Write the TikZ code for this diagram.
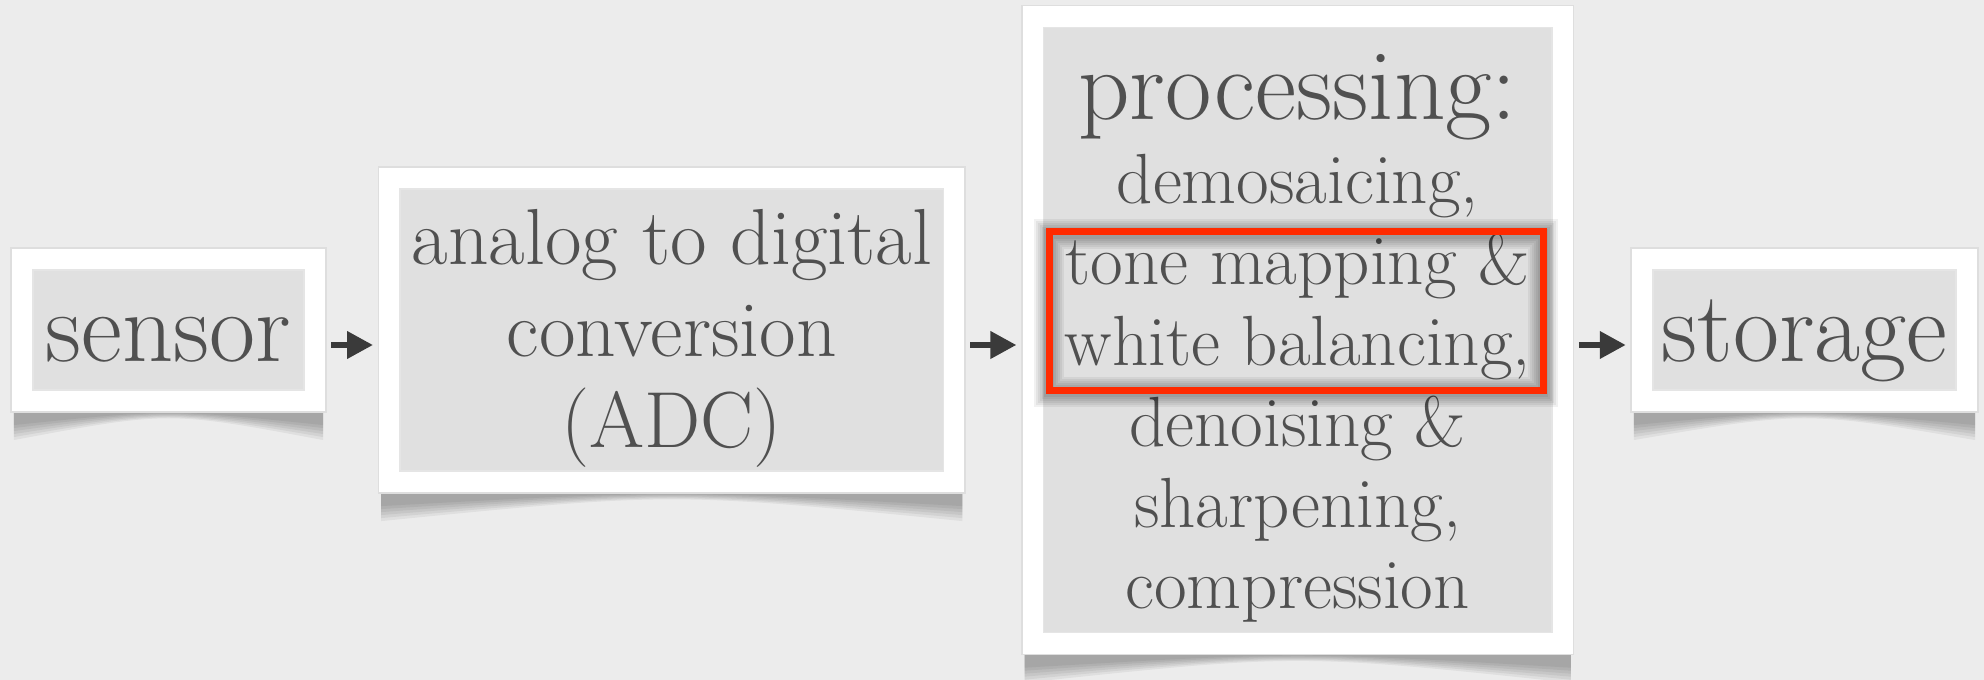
\documentclass[tikz,border=0pt]{standalone}
\usetikzlibrary{positioning,calc,arrows.meta,backgrounds}

\definecolor{paper}{RGB}{236,236,236}
\definecolor{boxgray}{RGB}{224,224,224}
\definecolor{ink}{RGB}{80,80,80}
\definecolor{arrowgray}{RGB}{58,58,58}
\definecolor{hired}{RGB}{255,42,0}

% curled shadow under a framed block
\newcommand{\curlshadow}[1]{%
  \foreach \d/\c in {0/-8,3/-7.6,6/-7.2,9/-6.8,12/-6.4,15/-6}
    \fill[black,opacity=0.055] ($(#1.south west)+(8,-16)$) -- ($(#1.south west)+(8,8+\d)$)
      .. controls ($(#1.south)+(0,\c)$) .. ($(#1.south east)+(-8,8+\d)$)
      -- ($(#1.south east)+(-8,-16)$) -- cycle;}

\begin{document}
\begin{tikzpicture}[x=0.01cm, y=-0.01cm, node distance=0.42cm,
  block/.style={fill=boxgray, draw=black!10, line width=0.4pt, inner sep=0pt, outer sep=0.27cm,
    preaction={draw=black!13, line width=0.45cm},
    preaction={draw=white, line width=0.42cm}},
  blocktext/.style={text=ink, align=center, inner sep=0pt},
  flow/.style={draw=arrowgray, line width=0.065cm, -{Triangle[length=0.26cm,width=0.26cm]}},
  hilite/.style={draw=hired, line width=0.07cm, inner sep=0pt, outer sep=0pt}]
\useasboundingbox (0,0) rectangle (1984,680);

\node[block, minimum width=2.71cm, minimum height=1.2cm] (sensor) at (168.5,330) {};
\node[block, minimum width=5.43cm, minimum height=2.82cm] (adc) [right=of sensor] {};
\node[block, minimum width=5.08cm, minimum height=6.05cm] (proc) [right=0.46cm of adc] {};
\node[block, minimum width=3.03cm, minimum height=1.2cm] (storage) [right=0.47cm of proc] {};

\node[blocktext, anchor=base, font=\fontsize{28.5}{32}\selectfont] (sensortext) at ($(sensor.center)+(0,32)$) {sensor};
\node[blocktext, font=\fontsize{22.6}{25.9}\selectfont] (adctext) at ($(adc.center)+(0,8.4)$)
  {analog to digital\\ conversion\\ (ADC)};
\node[blocktext, font=\fontsize{20.2}{23.05}\selectfont] (proctext) at ($(proc.center)+(0,8.2)$)
  {{\fontsize{28.7}{33}\selectfont processing:}\\[0.85pt] demosaicing,\\ tone mapping \&\\ white balancing,\\ denoising \&\\ sharpening,\\ compression};
\node[blocktext, anchor=base, font=\fontsize{28.5}{32}\selectfont] (storagetext) at ($(storage.center)+(0,32)$) {storage};

\node[hilite, minimum width=4.94cm, minimum height=1.58cm] (hl) at ($(proc.center)+(-1.5,-19)$) {};
\foreach \w in {0.10,0.14,0.18,0.22,0.26,0.30}
  \draw[black, opacity=0.055, line width=\w cm] ($(hl.north west)+(0,2)$) rectangle ($(hl.south east)+(0,2)$);
\node[hilite, minimum width=4.94cm, minimum height=1.58cm] at (hl.center) {};

\draw[flow] ([yshift=-0.15cm]sensor.east) -- ([yshift=-0.15cm]adc.west);
\draw[flow] ([yshift=-0.15cm]adc.east) -- ([yshift=-0.15cm]proc.west);
\draw[flow] ([yshift=-0.15cm]proc.east) -- ([yshift=-0.15cm]storage.west);

\begin{scope}[on background layer]
\fill[paper] (0,0) rectangle (1984,680);
\foreach \n in {sensor,adc,proc,storage} {\curlshadow{\n}}
\end{scope}
\end{tikzpicture}
\end{document}
